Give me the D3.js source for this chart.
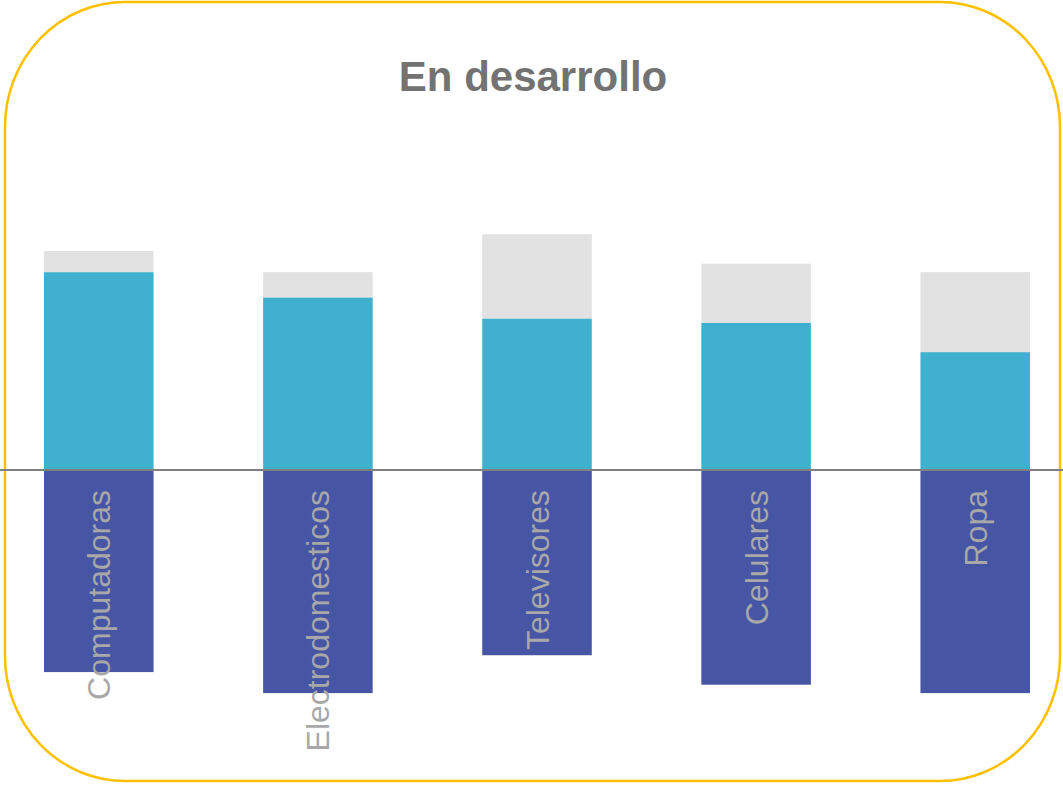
<!DOCTYPE html>
<html>
<head>
<meta charset="utf-8">
<script src="https://cdn.jsdelivr.net/npm/d3@7"></script>
<style>
  html, body { margin: 0; padding: 0; background: #ffffff; }
  svg { display: block; }
</style>
</head>
<body>
<svg id="chart" width="1063" height="785"></svg>
<script>
// Share of responses per product category (percent, each row sums to 100)
const categories = ["Computadoras", "Electrodomesticos", "Televisores", "Celulares", "Ropa"];
const favorable  = [47, 41, 36, 35, 28];   // drawn above the baseline
const neutral    = [5, 6, 20, 14, 19];     // stacked on top of favorable
const unfavorable = [48, 53, 44, 51, 53];  // drawn below the baseline

const title = "En desarrollo";

const colors = {
  favorable: "#3FB0CD",
  neutral: "#E2E2E2",
  unfavorable: "#4755A5",
  label: "#A8A8A8",
  title: "#737373",
  baseline: "#808080",
  frame: "#FFC000"
};

const svg = d3.select("#chart");
const W = 1063, H = 785;

// Rounded frame around the whole chart
svg.append("rect")
  .attr("x", 5).attr("y", 2)
  .attr("width", 1055).attr("height", 779)
  .attr("rx", 120).attr("ry", 125)
  .attr("fill", "#ffffff")
  .attr("stroke", colors.frame)
  .attr("stroke-width", 2.5);

// Title
svg.append("text")
  .attr("x", 533).attr("y", 91)
  .attr("text-anchor", "middle")
  .attr("font-family", "Liberation Sans, Arial, sans-serif")
  .attr("font-weight", "bold")
  .attr("font-size", 42)
  .attr("fill", colors.title)
  .text(title);

// Scales
const x = d3.scaleBand()
  .domain(categories)
  .range([44, 1030])
  .paddingInner(0.5)
  .paddingOuter(0);

const y = d3.scaleLinear()
  .domain([-60, 60])
  .range([470 + 60 * 4.21, 470 - 60 * 4.21]);

const rows = categories.map((c, i) => ({
  cat: c,
  fav: favorable[i],
  neu: neutral[i],
  unf: unfavorable[i]
}));

const bars = svg.append("g");

// Below-baseline bars
bars.selectAll("rect.unf").data(rows).join("rect")
  .attr("class", "unf")
  .attr("x", d => x(d.cat))
  .attr("width", x.bandwidth())
  .attr("y", y(0))
  .attr("height", d => y(-d.unf) - y(0))
  .attr("fill", colors.unfavorable);

// Above-baseline bars
bars.selectAll("rect.fav").data(rows).join("rect")
  .attr("class", "fav")
  .attr("x", d => x(d.cat))
  .attr("width", x.bandwidth())
  .attr("y", d => y(d.fav))
  .attr("height", d => y(0) - y(d.fav))
  .attr("fill", colors.favorable);

// Neutral segment stacked on top
bars.selectAll("rect.neu").data(rows).join("rect")
  .attr("class", "neu")
  .attr("x", d => x(d.cat))
  .attr("width", x.bandwidth())
  .attr("y", d => y(d.fav + d.neu))
  .attr("height", d => y(d.fav) - y(d.fav + d.neu))
  .attr("fill", colors.neutral);

// Baseline across the full width
svg.append("line")
  .attr("x1", 0).attr("x2", W)
  .attr("y1", y(0)).attr("y2", y(0))
  .attr("stroke", colors.baseline)
  .attr("stroke-width", 2);

// Vertical category labels hanging from the baseline
svg.append("g").selectAll("text").data(rows).join("text")
  .attr("transform", d => `translate(${x(d.cat) + x.bandwidth() / 2},${y(0) + 20}) rotate(-90)`)
  .attr("text-anchor", "end")
  .attr("dy", "0.36em")
  .attr("font-family", "Liberation Sans, Arial, sans-serif")
  .attr("font-size", 32)
  .attr("fill", colors.label)
  .text(d => d.cat);
</script>
</body>
</html>
